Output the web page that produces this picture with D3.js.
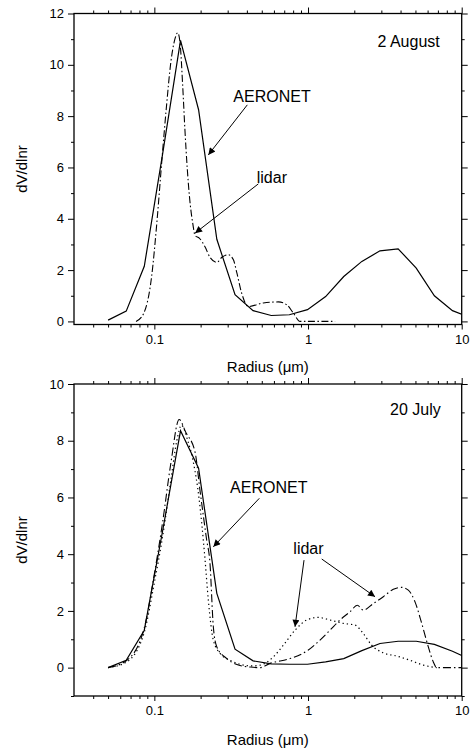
<!DOCTYPE html>
<html><head><meta charset="utf-8">
<script src="https://cdn.jsdelivr.net/npm/d3@7"></script>
<style>
body{margin:0;background:#fff}
svg{display:block}
text{font-family:"Liberation Sans",Arial,Helvetica,sans-serif;fill:#000}
</style>
</head><body>
<svg id="chart" width="471" height="749"></svg>
<script>
// ---------- data ----------
const xMajorTicks = [0.1, 1, 10];
const xMinorTicks = [0.04,0.05,0.06,0.07,0.08,0.09,0.2,0.3,0.4,0.5,0.6,0.7,0.8,0.9,2,3,4,5,6,7,8,9];

// 2 August panel
const augYMajor = [0, 2, 4, 6, 8, 10, 12];
const augYMinor = [1, 3, 5, 7, 9, 11];
const aeronetRadii = [0.05, 0.0656, 0.086, 0.113, 0.148, 0.194, 0.255, 0.335, 0.439, 0.576, 0.756, 0.992, 1.302, 1.708, 2.241, 2.94, 3.857, 5.06, 6.64, 8.71, 11.43];
const aeronetAug = [0.05, 0.4, 2.15, 6.5, 10.95, 8.25, 3.2, 1.04, 0.42, 0.23, 0.26, 0.46, 0.97, 1.75, 2.34, 2.75, 2.83, 2.08, 1.0, 0.42, 0.15];
const lidarAugRadii = [0.076, 0.085, 0.096, 0.104, 0.112, 0.120, 0.128, 0.136, 0.142, 0.147, 0.153, 0.158, 0.164, 0.169, 0.178, 0.184, 0.196, 0.214, 0.230, 0.255, 0.275, 0.303, 0.327, 0.344, 0.370, 0.409, 0.512, 0.641, 0.727, 0.802, 0.887, 1.0, 1.2, 1.5];
const lidarAug = [0, 0.3, 1.75, 3.9, 6.3, 8.4, 10.1, 11.0, 11.25, 10.85, 9.15, 7.5, 5.9, 4.9, 3.8, 3.35, 3.25, 2.9, 2.5, 2.3, 2.5, 2.6, 2.4, 1.9, 1.1, 0.58, 0.72, 0.76, 0.65, 0.33, 0, 0, 0, 0];

// 20 July panel
const julYMajor = [0, 2, 4, 6, 8, 10];
const julYMinor = [-1, 1, 3, 5, 7, 9];
const aeronetJul = [0.0, 0.26, 1.32, 4.8, 8.35, 7.03, 2.62, 0.65, 0.24, 0.13, 0.12, 0.12, 0.2, 0.32, 0.6, 0.85, 0.93, 0.93, 0.82, 0.58, 0.28];
const lidarJulDashRadii = [0.05, 0.066, 0.086, 0.1, 0.113, 0.128, 0.145, 0.16, 0.184, 0.198, 0.219, 0.230, 0.242, 0.255, 0.296, 0.352, 0.42, 0.487, 0.566, 0.764, 1.005, 1.197, 1.39, 1.615, 1.877, 2.093, 2.29, 2.66, 3.09, 3.589, 4.07, 4.494, 4.968, 5.493, 6.065, 6.535, 6.876, 8.0, 10.0];
const lidarJulDash = [0.0, 0.25, 1.4, 3.3, 5.1, 7.2, 8.75, 8.3, 7.6, 6.26, 4.5, 3.7, 1.44, 0.73, 0.32, 0.09, 0.02, 0.0, 0.15, 0.32, 0.62, 0.97, 1.32, 1.68, 1.97, 2.2, 2.03, 2.26, 2.5, 2.76, 2.83, 2.73, 2.32, 1.56, 0.73, 0.2, 0.0, 0.0, 0.0];
const lidarJulDotRadii = [0.05, 0.066, 0.086, 0.1, 0.113, 0.128, 0.14, 0.15, 0.165, 0.18, 0.195, 0.2138, 0.2245, 0.242, 0.268, 0.311, 0.36, 0.43, 0.49, 0.595, 0.691, 0.823, 0.981, 1.167, 1.39, 1.697, 2.022, 2.29, 2.597, 3.09, 3.776, 4.609, 5.627, 6.876];
const lidarJulDot = [0.0, 0.2, 1.25, 3.0, 4.6, 6.6, 8.0, 8.55, 8.0, 7.2, 6.0, 3.8, 2.38, 0.97, 0.5, 0.26, 0.12, 0.06, 0.09, 0.38, 0.79, 1.32, 1.68, 1.77, 1.68, 1.56, 1.5, 1.2, 0.79, 0.52, 0.41, 0.26, 0.09, 0.0];

// ---------- drawing ----------
const svg = d3.select("#chart");
const left = 74, right = 461.7;
const x = d3.scaleLog().domain([0.03, 10]).range([left, right]);

svg.append("defs").append("marker")
  .attr("id", "arrow").attr("viewBox", "0 0 10 10")
  .attr("refX", 10).attr("refY", 5)
  .attr("markerUnits", "userSpaceOnUse")
  .attr("markerWidth", 10).attr("markerHeight", 7)
  .attr("orient", "auto")
  .append("path").attr("d", "M0,0 L10,5 L0,10 Z").attr("fill", "#000");

function zip(xs, ys) { return xs.map((r, i) => [r, ys[i]]); }

function panel(cfg) {
  const y = d3.scaleLinear().domain(cfg.yDomain).range([cfg.bottom, cfg.top]);
  const g = svg.append("g");
  const clipId = "clip" + cfg.id;
  svg.select("defs").append("clipPath").attr("id", clipId)
    .append("rect").attr("x", left).attr("y", cfg.top)
    .attr("width", right - left).attr("height", cfg.bottom - cfg.top);

  // curves
  const curves = g.append("g").attr("clip-path", `url(#${clipId})`);
  cfg.series.forEach(s => {
    const line = d3.line().x(d => x(d[0])).y(d => y(d[1])).curve(s.curve || d3.curveLinear);
    curves.append("path").attr("d", line(s.data))
      .attr("fill", "none").attr("stroke", "#000")
      .attr("stroke-width", s.width || 1.2)
      .attr("stroke-dasharray", s.dash || null);
  });

  const fontSize = "13px";
  // bottom axis
  const bx = g.append("g").attr("transform", `translate(0,${cfg.bottom})`)
    .call(d3.axisBottom(x).tickValues(xMajorTicks).tickFormat(d => String(d)).tickSize(5).tickPadding(5).tickSizeOuter(0));
  const bxm = g.append("g").attr("transform", `translate(0,${cfg.bottom})`)
    .call(d3.axisBottom(x).tickValues(xMinorTicks).tickFormat("").tickSize(3).tickSizeOuter(0));
  // top axis
  const tx = g.append("g").attr("transform", `translate(0,${cfg.top})`)
    .call(d3.axisTop(x).tickValues(xMajorTicks).tickFormat("").tickSize(6).tickSizeOuter(0));
  const txm = g.append("g").attr("transform", `translate(0,${cfg.top})`)
    .call(d3.axisTop(x).tickValues(xMinorTicks).tickFormat("").tickSize(3).tickSizeOuter(0));
  // left axis
  const ly = g.append("g").attr("transform", `translate(${left},0)`)
    .call(d3.axisLeft(y).tickValues(cfg.yMajor).tickFormat(d => String(d)).tickSize(6).tickPadding(4).tickSizeOuter(0));
  const lym = g.append("g").attr("transform", `translate(${left},0)`)
    .call(d3.axisLeft(y).tickValues(cfg.yMinor).tickFormat("").tickSize(3).tickSizeOuter(0));
  // right axis
  const ry = g.append("g").attr("transform", `translate(${right},0)`)
    .call(d3.axisRight(y).tickValues(cfg.yMajor).tickFormat("").tickSize(6).tickSizeOuter(0));
  const rym = g.append("g").attr("transform", `translate(${right},0)`)
    .call(d3.axisRight(y).tickValues(cfg.yMinor).tickFormat("").tickSize(3).tickSizeOuter(0));

  [bx, bxm, tx, txm, ly, lym, ry, rym].forEach(a => {
    a.select(".domain").remove();
    a.selectAll(".tick line").attr("stroke", "#000").attr("stroke-width", 1);
    a.selectAll("text").attr("font-size", fontSize).attr("fill", "#000")
      .attr("font-family", '"Liberation Sans", Arial, sans-serif');
  });

  // frame
  g.append("rect").attr("x", left).attr("y", cfg.top)
    .attr("width", right - left).attr("height", cfg.bottom - cfg.top)
    .attr("fill", "none").attr("stroke", "#000").attr("stroke-width", 1.3);

  // axis titles
  g.append("text").attr("transform", `translate(27,${(cfg.top + cfg.bottom) / 2}) rotate(-90)`)
    .attr("text-anchor", "middle").attr("font-size", "15px").text("dV/dlnr");
  g.append("text").attr("x", (left + right) / 2).attr("y", cfg.bottom + cfg.titleGap)
    .attr("text-anchor", "middle").attr("font-size", "15px").text("Radius (\u03bcm)");

  // annotations
  g.append("text").attr("x", x(cfg.date[0])).attr("y", y(cfg.date[1]))
    .attr("text-anchor", "end").attr("font-size", "16px").text(cfg.date[2]);
  cfg.labels.forEach(l => {
    g.append("text").attr("x", x(l[0])).attr("y", y(l[1]))
      .attr("font-size", "16px").text(l[2]);
  });
  cfg.arrows.forEach(a => {
    g.append("line")
      .attr("x1", x(a[0])).attr("y1", y(a[1]))
      .attr("x2", x(a[2])).attr("y2", y(a[3]))
      .attr("stroke", "#000").attr("stroke-width", 1)
      .attr("marker-end", "url(#arrow)");
  });
}

panel({
  id: "aug", top: 13.5, bottom: 324.5, yDomain: [-0.12, 12],
  yMajor: augYMajor, yMinor: augYMinor, titleGap: 47,
  series: [
    { data: zip(aeronetRadii, aeronetAug) },
    { data: zip(lidarAugRadii, lidarAug), dash: "7,2.5,1.5,2.5", curve: d3.curveMonotoneX, width: 1.1 }
  ],
  date: [7.2, 10.7, "2 August"],
  labels: [[0.3267, 8.57, "AERONET"], [0.4636, 5.4, "lidar"]],
  arrows: [[0.4027, 8.44, 0.2245, 6.49], [0.4749, 5.36, 0.184, 3.44]]
});

panel({
  id: "jul", top: 384, bottom: 696, yDomain: [-1, 10],
  yMajor: julYMajor, yMinor: julYMinor, titleGap: 49,
  series: [
    { data: zip(aeronetRadii, aeronetJul) },
    { data: zip(lidarJulDashRadii, lidarJulDash), dash: "8,3,1.5,3", curve: d3.curveMonotoneX, width: 1.1 },
    { data: zip(lidarJulDotRadii, lidarJulDot), dash: "1.3,3", curve: d3.curveMonotoneX, width: 1.2 }
  ],
  date: [7.3, 8.91, "20 July"],
  labels: [[0.311, 6.14, "AERONET"], [0.8024, 4.0, "lidar"]],
  arrows: [[0.482, 5.97, 0.242, 4.26], [0.9418, 3.79, 0.823, 1.44], [1.228, 3.83, 2.729, 2.5]]
});
</script>
</body></html>
